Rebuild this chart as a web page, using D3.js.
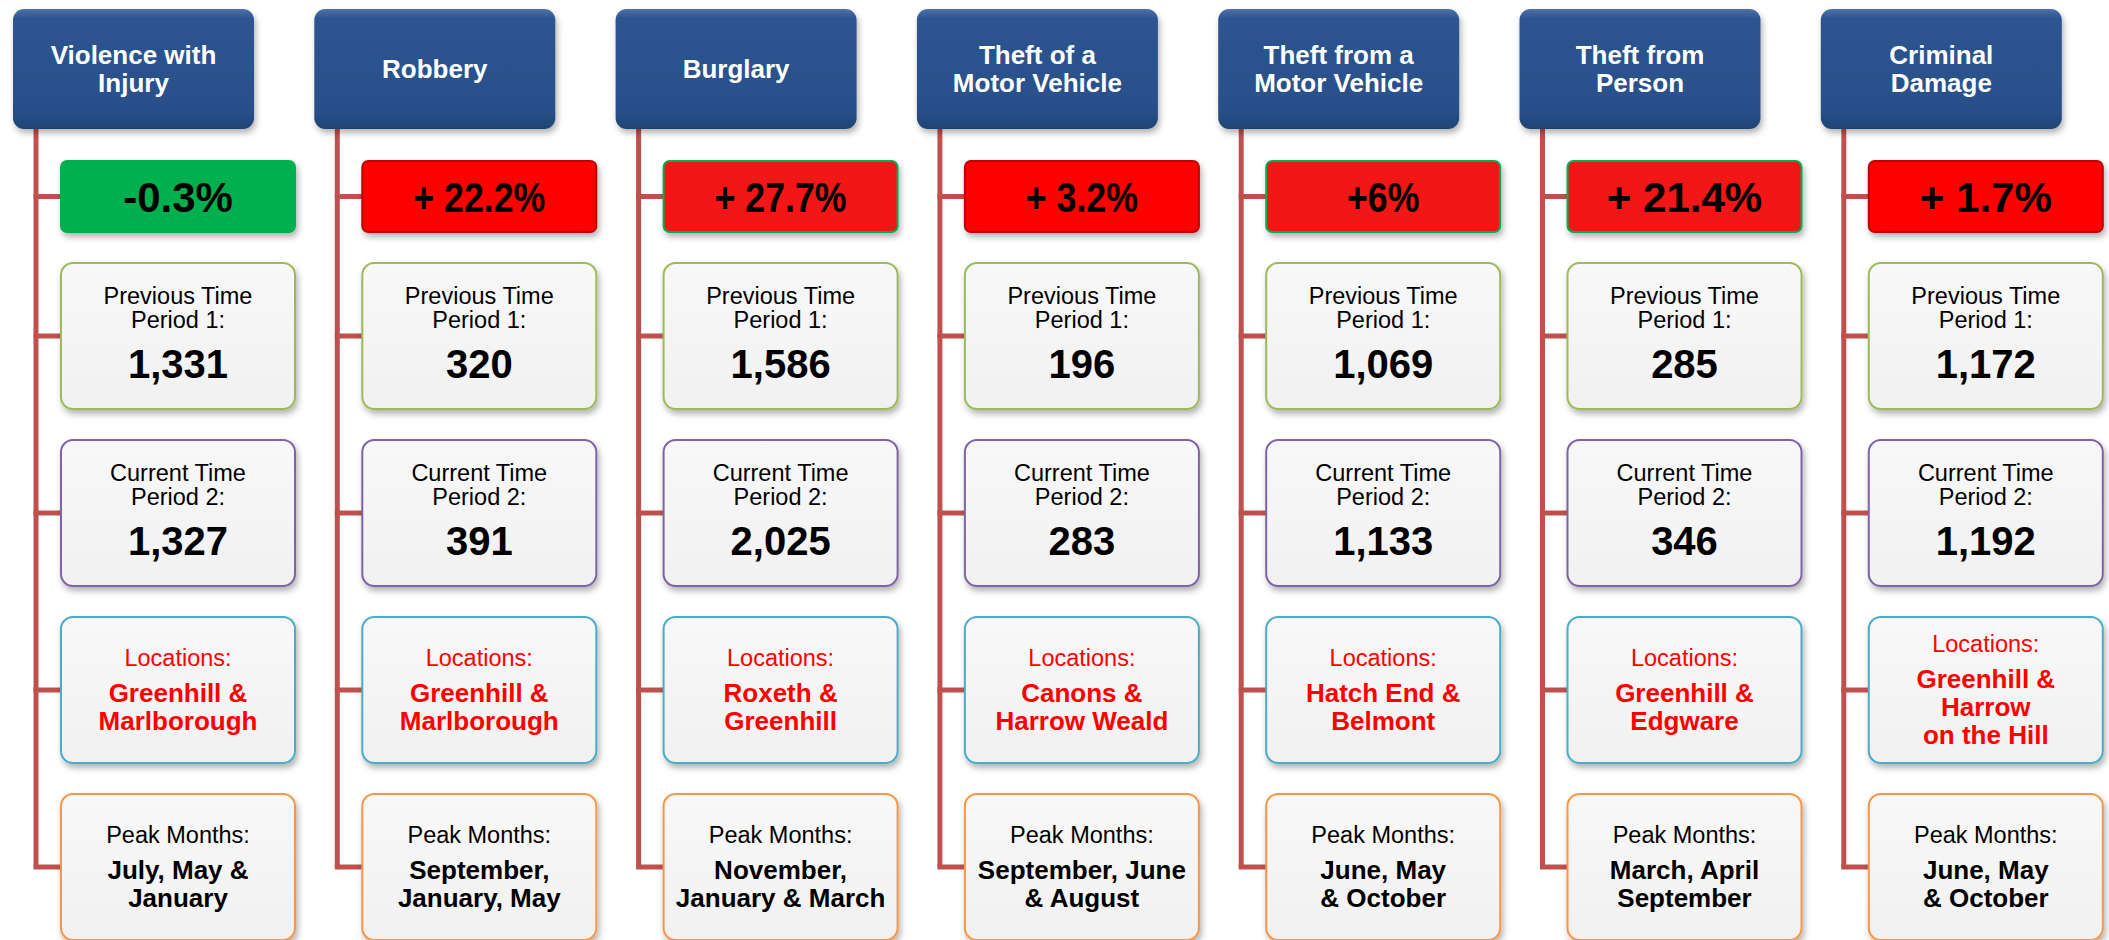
<!DOCTYPE html>
<html>
<head>
<meta charset="utf-8">
<script src="https://cdn.jsdelivr.net/npm/d3@7"></script>
<style>
  body { margin: 0; background: #fff; }
  svg { display: block; font-family: "Liberation Sans", Arial, sans-serif; }
</style>
</head>
<body>
<svg width="2109" height="940"></svg>
<script>
// crime categories and figures
var categories = ["Violence with\nInjury", "Robbery", "Burglary", "Theft of a\nMotor Vehicle",
  "Theft from a\nMotor Vehicle", "Theft from\nPerson", "Criminal\nDamage"];
var changeLabels = ["-0.3%", "+ 22.2%", "+ 27.7%", "+ 3.2%", "+6%", "+ 21.4%", "+ 1.7%"];
var changeSign = [-1, 1, 1, 1, 1, 1, 1];
var previousPeriod = [1331, 320, 1586, 196, 1069, 285, 1172];
var currentPeriod = [1327, 391, 2025, 283, 1133, 346, 1192];
var locations = ["Greenhill &\nMarlborough", "Greenhill &\nMarlborough", "Roxeth &\nGreenhill",
  "Canons &\nHarrow Weald", "Hatch End &\nBelmont", "Greenhill &\nEdgware", "Greenhill &\nHarrow\non the Hill"];
var peakMonths = ["July, May &\nJanuary", "September,\nJanuary, May", "November,\nJanuary & March",
  "September, June\n& August", "June, May\n& October", "March, April\nSeptember", "June, May\n& October"];
var rowKeys = ["prev", "curr", "loc", "peak"];

// styling
var greenEdged = [2, 4, 5];      // percent boxes drawn with a green outline
var tightLabels = [1, 2, 3, 4];  // percent labels squeezed in the original
var fmt = d3.format(",");

var svg = d3.select("svg");
var defs = svg.append("defs");

var shadow = defs.append("filter").attr("id", "shadow")
  .attr("x", "-10%").attr("y", "-10%").attr("width", "130%").attr("height", "140%");
shadow.append("feDropShadow").attr("dx", 2).attr("dy", 4).attr("stdDeviation", 3)
  .attr("flood-color", "#000").attr("flood-opacity", 0.3);

var headGrad = defs.append("linearGradient").attr("id", "headGrad")
  .attr("x1", 0).attr("y1", 0).attr("x2", 0).attr("y2", 1);
headGrad.append("stop").attr("offset", "0%").attr("stop-color", "#4d72a8");
headGrad.append("stop").attr("offset", "8%").attr("stop-color", "#2e5490");
headGrad.append("stop").attr("offset", "85%").attr("stop-color", "#28508a");
headGrad.append("stop").attr("offset", "100%").attr("stop-color", "#1f4373");

var boxGrad = defs.append("linearGradient").attr("id", "boxGrad")
  .attr("x1", 0).attr("y1", 0).attr("x2", 0).attr("y2", 1);
boxGrad.append("stop").attr("offset", "0%").attr("stop-color", "#f8f8f8");
boxGrad.append("stop").attr("offset", "100%").attr("stop-color", "#f1f1f1");

var x = d3.scaleBand().domain(d3.range(categories.length)).range([13, 13 + 7 * 301.3]).padding(0);
var rowY = d3.scalePoint().domain(rowKeys).range([263, 794]);

var headW = 241, headTop = 9, headH = 120;
var boxOff = 48, boxW = 234, boxH = 146;
var pctTop = 161, pctH = 71;
var lineOff = 23;
var rowEdge = { prev: "#9bbb59", curr: "#8064a2", loc: "#4bacc6", peak: "#f79646" };

var cols = svg.selectAll("g.col").data(categories).enter()
  .append("g").attr("class", "col")
  .attr("transform", function(d, i) { return "translate(" + x(i) + ",0)"; });

// connector lines
cols.append("line")
  .attr("x1", lineOff).attr("x2", lineOff)
  .attr("y1", headTop + headH).attr("y2", rowY("peak") + boxH / 2)
  .attr("stroke", "#c0504d").attr("stroke-width", 5);
var centers = [pctTop + pctH / 2].concat(rowKeys.map(function(k) { return rowY(k) + boxH / 2; }));
centers.forEach(function(cy) {
  cols.append("line")
    .attr("x1", lineOff - 2.5).attr("x2", boxOff)
    .attr("y1", cy).attr("y2", cy)
    .attr("stroke", "#c0504d").attr("stroke-width", 5);
});

// headers
cols.append("rect")
  .attr("x", 0).attr("y", headTop).attr("width", headW).attr("height", headH)
  .attr("rx", 11).attr("fill", "url(#headGrad)").attr("filter", "url(#shadow)");
cols.each(function(d) {
  var lines = d.split("\n");
  var cy = headTop + headH / 2;
  var first = cy - (lines.length - 1) * 14 + 9;
  var t = d3.select(this).append("text")
    .attr("text-anchor", "middle").attr("fill", "#fff")
    .attr("font-size", 26).attr("font-weight", "bold");
  lines.forEach(function(l, j) {
    t.append("tspan").attr("x", headW / 2).attr("y", first + j * 28).text(l);
  });
});

// percent change boxes
cols.append("rect")
  .attr("x", boxOff).attr("y", pctTop).attr("width", boxW).attr("height", pctH).attr("rx", 6)
  .attr("fill", function(d, i) {
    if (changeSign[i] < 0) return "#00b050";
    return greenEdged.indexOf(i) >= 0 ? "#f21212" : "#ff0000";
  })
  .attr("stroke", function(d, i) {
    if (changeSign[i] < 0) return "#00b050";
    return greenEdged.indexOf(i) >= 0 ? "#00b050" : "#c00000";
  })
  .attr("stroke-width", 2)
  .attr("filter", "url(#shadow)");
cols.append("text")
  .attr("x", boxOff + boxW / 2).attr("y", pctTop + pctH / 2 + 15)
  .attr("text-anchor", "middle").attr("font-size", 42).attr("font-weight", "bold")
  .attr("fill", "#000")
  .text(function(d, i) { return changeLabels[i]; })
  .each(function(d, i) {
    if (tightLabels.indexOf(i) < 0) return;
    var w = this.getComputedTextLength();
    d3.select(this).attr("textLength", w * 0.85).attr("lengthAdjust", "spacingAndGlyphs");
  });

// white info boxes
rowKeys.forEach(function(k) {
  cols.append("rect")
    .attr("x", boxOff).attr("y", rowY(k)).attr("width", boxW).attr("height", boxH).attr("rx", 12)
    .attr("fill", "url(#boxGrad)").attr("stroke", rowEdge[k]).attr("stroke-width", 2)
    .attr("filter", "url(#shadow)");
});

function periodText(sel, key, label, values) {
  sel.each(function(d, i) {
    var cy = rowY(key) + boxH / 2;
    var t = d3.select(this).append("text").attr("text-anchor", "middle").attr("fill", "#000");
    t.append("tspan").attr("x", boxOff + boxW / 2).attr("y", cy - 32)
      .attr("font-size", 23.5).text(label[0]);
    t.append("tspan").attr("x", boxOff + boxW / 2).attr("y", cy - 8)
      .attr("font-size", 23.5).text(label[1]);
    t.append("tspan").attr("x", boxOff + boxW / 2).attr("y", cy + 42)
      .attr("font-size", 40).attr("font-weight", "bold").text(fmt(values[i]));
  });
}
periodText(cols, "prev", ["Previous Time", "Period 1:"], previousPeriod);
periodText(cols, "curr", ["Current Time", "Period 2:"], currentPeriod);

function listText(sel, key, label, values, colour) {
  sel.each(function(d, i) {
    var lines = values[i].split("\n");
    var cy = rowY(key) + boxH / 2;
    var span = 36 + 28 * (lines.length - 1);
    var first = cy - span / 2 + 8;
    var t = d3.select(this).append("text").attr("text-anchor", "middle").attr("fill", colour);
    t.append("tspan").attr("x", boxOff + boxW / 2).attr("y", first)
      .attr("font-size", 23.5).text(label);
    lines.forEach(function(l, j) {
      t.append("tspan").attr("x", boxOff + boxW / 2).attr("y", first + 36 + j * 28)
        .attr("font-size", 26).attr("font-weight", "bold").text(l);
    });
  });
}
listText(cols, "loc", "Locations:", locations, "#ff0000");
listText(cols, "peak", "Peak Months:", peakMonths, "#000");
</script>
</body>
</html>
